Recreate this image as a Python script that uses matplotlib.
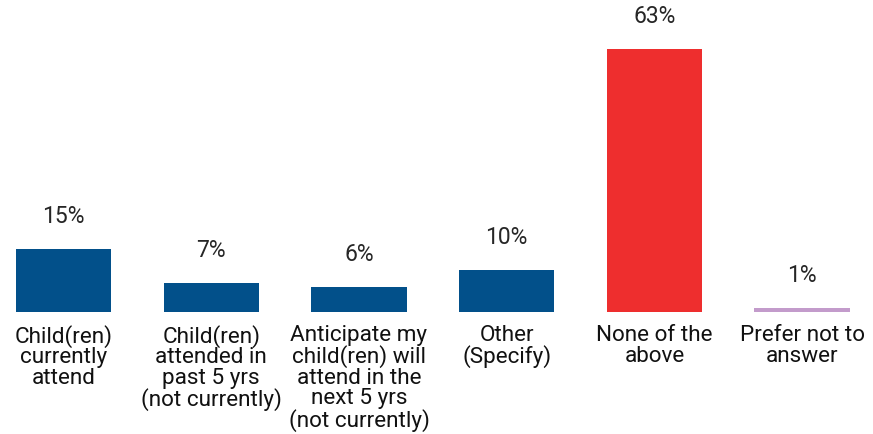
import matplotlib
matplotlib.use("Agg")
import matplotlib.pyplot as plt

categories = [
    "Child(ren)\ncurrently\nattend",
    "Child(ren)\nattended in\npast 5 yrs\n(not currently)",
    "Anticipate my\nchild(ren) will\nattend in the\nnext 5 yrs\n(not currently)",
    "Other\n(Specify)",
    "None of the\nabove",
    "Prefer not to\nanswer",
]
values = [15, 7, 6, 10, 63, 1]
value_labels = ["15%", "7%", "6%", "10%", "63%", "1%"]
colors = ["#02508A", "#02508A", "#02508A", "#02508A", "#EE2E2E", "#C39BCB"]

plt.rcParams['font.family'] = ['Roboto', 'DejaVu Sans']

fig = plt.figure(figsize=(8.73, 4.35), dpi=100)
ax = fig.add_axes([0, 0.2805, 1, 0.7195])
x = list(range(len(values)))
ax.bar(x, values, width=0.645, color=colors)
ax.set_xlim(-0.43, 5.48)
ax.set_ylim(0, 75)
ax.axis('off')

for xi, v, lab in zip(x, values, value_labels):
    ax.annotate(lab, (xi, v), xytext=(0, 27), textcoords='offset pixels',
                ha='center', va='baseline', fontsize=16.5, color='#262626')

for xi, cat in zip(x, categories):
    ax.annotate(cat, (xi, 0), xytext=(0, -12), textcoords='offset pixels',
                ha='center', va='top', fontsize=16.2, color='#111111',
                multialignment='center', linespacing=0.97, annotation_clip=False)

fig.savefig("out.png", dpi=100)
